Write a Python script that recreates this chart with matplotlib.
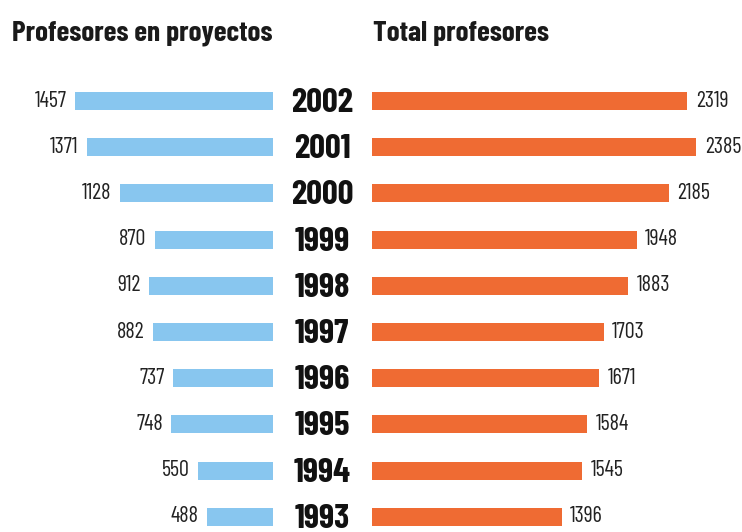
import matplotlib
matplotlib.use("Agg")
import matplotlib.pyplot as plt

years = ["2002", "2001", "2000", "1999", "1998", "1997", "1996", "1995", "1994", "1993"]
proyectos = [1457, 1371, 1128, 870, 912, 882, 737, 748, 550, 488]
total = [2319, 2385, 2185, 1948, 1883, 1703, 1671, 1584, 1545, 1396]

title_left = "Profesores en proyectos"
title_right = "Total profesores"

blue = "#88C6EF"
orange = "#EF6B33"
FONT = ["Barlow Condensed", "DejaVu Sans"]
plt.rcParams["font.family"] = FONT

W, H = 742, 532
fig = plt.figure(figsize=(W / 100, H / 100), dpi=100)
fig.patch.set_facecolor("white")

px_per_unit = 0.136
y0_pix, step_pix = 101, 46.2
ytop = -y0_pix / step_pix
ybot = (H - y0_pix) / step_pix

lx1 = 273
axL = fig.add_axes([0, 0, lx1 / W, 1])
axL.set_xlim(lx1 / px_per_unit, 0)
axL.set_ylim(ybot, ytop)
rx0 = 372
axR = fig.add_axes([rx0 / W, 0, (W - rx0) / W, 1])
axR.set_xlim(0, (W - rx0) / px_per_unit)
axR.set_ylim(ybot, ytop)

for ax in (axL, axR):
    ax.axis("off")
    ax.patch.set_alpha(0)

ypos = list(range(len(years)))
axL.barh(ypos, proyectos, height=0.39, color=blue, align="center")
axR.barh(ypos, total, height=0.39, color=orange, align="center")

for i, v in enumerate(proyectos):
    axL.annotate(str(v), (v, i), xytext=(-6, 0), textcoords="offset points",
                 ha="right", va="center", fontsize=16, color="#222222")
for i, v in enumerate(total):
    axR.annotate(str(v), (v, i), xytext=(6, 0), textcoords="offset points",
                 ha="left", va="center", fontsize=16, color="#222222")

for i, yr in enumerate(years):
    yf = 1 - (y0_pix + step_pix * i + 2) / H
    fig.text(322 / W, yf, yr, ha="center", va="center", fontsize=25,
             fontweight="bold", color="#111111")

fig.text(12 / W, 1 - 33 / H, title_left, ha="left", va="center",
         fontsize=21, fontweight="bold", color="#1a1a1a")
fig.text(373 / W, 1 - 33 / H, title_right, ha="left", va="center",
         fontsize=21, fontweight="bold", color="#1a1a1a")

fig.savefig("out.png", dpi=100, facecolor="white")
